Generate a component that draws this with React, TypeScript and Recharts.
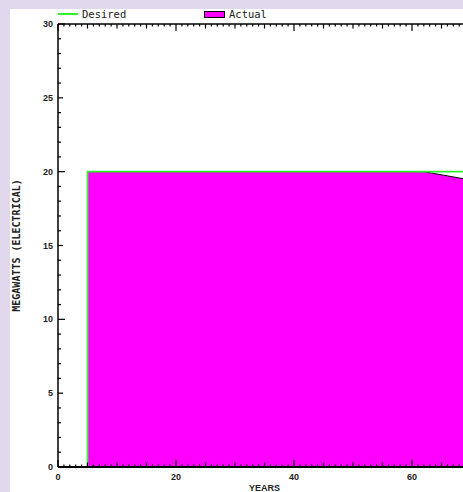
import { ComposedChart, Area, Line, XAxis, YAxis, Label } from "recharts";

// values
const years = [0, 5, 5, 62, 70];
const desired = [0, 0, 20, 20, 20];
const actual = [0, 0, 20, 20, 19.43];

const xTicks = Array.from({ length: 71 }, (_, i) => i);
const yTicks = Array.from({ length: 31 }, (_, i) => i);
const xLabels = [0, 20, 40, 60];
const yLabels = [0, 5, 10, 15, 20, 25, 30];

const data = years.map((year, i) => ({
  year,
  desired: desired[i],
  actual: actual[i],
}));

const W = 461;
const H = 483;
const noMargin = { top: 0, right: 0, bottom: 0, left: 0 };

const labelFont = {
  fontFamily: "Liberation Sans, Arial, sans-serif",
  fontSize: 9,
  fontWeight: 700,
  fill: "#222",
};

const tickLen = (v: number) => (v % 20 === 0 ? 7 : v % 5 === 0 ? 4.5 : 2.5);

const BottomTick = (props: any) => {
  const { x, y, payload } = props;
  const v = payload.value;
  return (
    <g>
      <line x1={x} y1={y} x2={x} y2={y - tickLen(v)} stroke="#000" strokeWidth={1.2} />
      {xLabels.includes(v) && (
        <text x={x} y={y + 13} textAnchor="middle" {...labelFont}>
          {v}
        </text>
      )}
    </g>
  );
};

const TopTick = (props: any) => {
  const { x, y, payload } = props;
  return <line x1={x} y1={y} x2={x} y2={y + tickLen(payload.value)} stroke="#000" strokeWidth={1.2} />;
};

const LeftTick = (props: any) => {
  const { x, y, payload } = props;
  const v = payload.value;
  const len = v % 10 === 0 ? 7 : v % 5 === 0 ? 5 : 3;
  return (
    <g>
      <line x1={x} y1={y} x2={x + len} y2={y} stroke="#000" strokeWidth={1.2} />
      {yLabels.includes(v) && (
        <text x={x - 5} y={y + 3} textAnchor="end" {...labelFont}>
          {v}
        </text>
      )}
    </g>
  );
};

const legendText = {
  position: "absolute" as const,
  top: -1,
  fontFamily: "DejaVu Sans Mono, monospace",
  fontSize: 10.5,
  color: "#222",
};

const App = () => {
  return (
    <div
      style={{
        position: "fixed",
        inset: 0,
        background: "#e1d8ee",
        overflow: "hidden",
      }}
    >
      <div
        style={{
          position: "absolute",
          left: 10,
          top: 9,
          width: 453,
          height: 483,
          background: "#fff",
          overflow: "hidden",
        }}
      >
        {/* legend */}
        <div style={{ position: "absolute", left: 48, top: 4, width: 20, height: 2, background: "#33f033" }} />
        <div style={{ ...legendText, left: 72 }}>Desired</div>
        <div
          style={{
            position: "absolute",
            left: 194,
            top: 2,
            width: 19,
            height: 5,
            background: "#ff00ff",
            border: "1px solid #000",
          }}
        />
        <div style={{ ...legendText, left: 219 }}>Actual</div>

        {/* filled area underneath */}
        <div style={{ position: "absolute", left: 0, top: 0 }}>
          <ComposedChart width={W} height={H} data={data} margin={noMargin}>
            <Area
              type="linear"
              dataKey="actual"
              fill="#ff00ff"
              fillOpacity={1}
              stroke="#000"
              strokeWidth={1}
              isAnimationActive={false}
            />
            <XAxis dataKey="year" type="number" domain={[0, 70]} height={25} tick={false} tickLine={false} axisLine={false} />
            <XAxis xAxisId="top" orientation="top" dataKey="year" type="number" domain={[0, 70]} height={15} tick={false} tickLine={false} axisLine={false} />
            <YAxis type="number" domain={[0, 30]} width={48} tick={false} tickLine={false} axisLine={false} />
          </ComposedChart>
        </div>

        {/* desired line and axes on top */}
        <div style={{ position: "absolute", left: 0, top: 0 }}>
          <ComposedChart width={W} height={H} data={data} margin={noMargin}>
            <Line
              type="linear"
              dataKey="desired"
              stroke="#33f033"
              strokeWidth={1.8}
              dot={false}
              isAnimationActive={false}
            />
            <XAxis
              dataKey="year"
              type="number"
              domain={[0, 70]}
              ticks={xTicks}
              interval={0}
              height={25}
              tickSize={0}
              tickMargin={0}
              tickLine={false}
              tick={<BottomTick />}
              axisLine={{ stroke: "#000", strokeWidth: 2 }}
            >
              <Label
                content={({ viewBox }: any) => (
                  <text
                    x={viewBox.x + viewBox.width / 2}
                    y={viewBox.y + 24}
                    textAnchor="middle"
                    {...labelFont}
                  >
                    YEARS
                  </text>
                )}
              />
            </XAxis>
            <XAxis
              xAxisId="top"
              orientation="top"
              dataKey="year"
              type="number"
              domain={[0, 70]}
              ticks={xTicks}
              interval={0}
              height={15}
              tickSize={0}
              tickMargin={0}
              tickLine={false}
              tick={<TopTick />}
              axisLine={{ stroke: "#000", strokeWidth: 1.5 }}
            />
            <YAxis
              type="number"
              domain={[0, 30]}
              ticks={yTicks}
              interval={0}
              width={48}
              tickSize={0}
              tickMargin={0}
              tickLine={false}
              tick={<LeftTick />}
              axisLine={{ stroke: "#000", strokeWidth: 1.5 }}
            >
              <Label
                content={({ viewBox }: any) => (
                  <text
                    x={7}
                    y={viewBox.y + viewBox.height / 2}
                    transform={`rotate(-90 7 ${viewBox.y + viewBox.height / 2})`}
                    textAnchor="middle"
                    dominantBaseline="middle"
                    fontFamily="DejaVu Sans Mono, monospace"
                    fontSize={10}
                    fontWeight={700}
                    fill="#222"
                  >
                    MEGAWATTS (ELECTRICAL)
                  </text>
                )}
              />
            </YAxis>
          </ComposedChart>
        </div>
      </div>
    </div>
  );
};

export default App;
